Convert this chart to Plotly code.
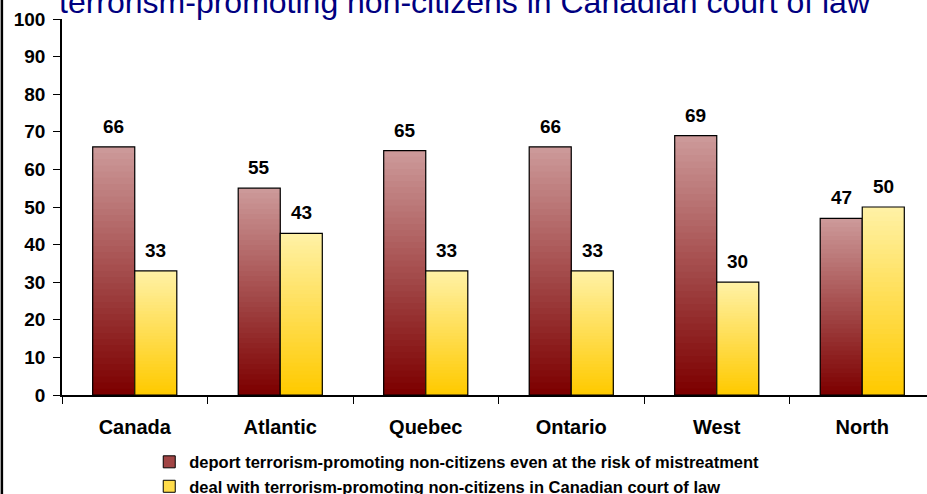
import plotly.graph_objects as go

# data
regions = ["Canada", "Atlantic", "Quebec", "Ontario", "West", "North"]
deport = [66, 55, 65, 66, 69, 47]
court = [33, 43, 33, 33, 30, 50]

deport_name = "deport terrorism-promoting non-citizens even at the risk of mistreatment"
court_name = "deal with terrorism-promoting non-citizens in Canadian court of law"
title_text = "terrorism-promoting non-citizens in Canadian court of law"

# gradient ends (top colour, bottom colour)
_MAROON = ((204, 153, 153), (125, 0, 0))
_YELLOW = ((255, 241, 164), (255, 202, 0))

_FONT = "Liberation Sans, Arial, sans-serif"
_N_STEPS = 40
_BAR_W = 0.289


def _mix(c0, c1, t):
    r, g, b = (round(a + (b_ - a) * t) for a, b_ in zip(c0, c1))
    return f"rgb({r},{g},{b})"


def gradient_bars(fig, values, colors, offset, name):
    """Fake a vertical gradient by overlaying progressively shorter bars."""
    top, bottom = colors
    for i in range(_N_STEPS):
        frac = (_N_STEPS - i) / _N_STEPS
        fig.add_trace(
            go.Bar(
                x=regions,
                y=[v * frac for v in values],
                width=_BAR_W,
                offset=offset,
                marker=dict(color=_mix(top, bottom, i / (_N_STEPS - 1)), line_width=0),
                showlegend=False,
                hoverinfo="skip",
            )
        )
    # outline on top
    fig.add_trace(
        go.Bar(
            x=regions,
            y=values,
            width=_BAR_W,
            offset=offset,
            marker=dict(color="rgba(0,0,0,0)", line=dict(color="black", width=1.2)),
            showlegend=False,
            name=name,
        )
    )
    # legend entry only
    fig.add_trace(
        go.Bar(
            x=[regions[0]],
            y=[None],
            name=name,
            marker=dict(color=_mix(top, bottom, 0.55), line=dict(color="black", width=1)),
        )
    )
    for r, v in zip(regions, values):
        fig.add_annotation(
            x=r,
            y=v,
            text=f"<b>{v}</b>",
            showarrow=False,
            xshift=(offset + _BAR_W / 2) * 145.5,
            yshift=8,
            yanchor="bottom",
            font=dict(family=_FONT, size=19, color="black"),
        )


fig = go.Figure()
gradient_bars(fig, deport, _MAROON, -_BAR_W, deport_name)
gradient_bars(fig, court, _YELLOW, 0, court_name)

fig.add_annotation(
    text=title_text,
    xref="paper",
    yref="paper",
    x=-0.006,
    y=1.045,
    xanchor="left",
    yanchor="middle",
    showarrow=False,
    font=dict(family=_FONT, size=32, color="#000080"),
)

# frame line at the very left edge of the slide
fig.add_shape(
    type="line",
    xref="paper",
    yref="paper",
    x0=-0.0695,
    x1=-0.0695,
    y0=-0.4,
    y1=1.2,
    line=dict(color="black", width=2.5),
)

fig.update_layout(
    barmode="overlay",
    width=927,
    height=494,
    margin=dict(l=62, r=0, t=19, b=99, autoexpand=False),
    plot_bgcolor="white",
    paper_bgcolor="white",
    font=dict(family=_FONT, color="black"),
    legend=dict(
        xref="container",
        yref="container",
        x=0.161,
        y=0.1,
        xanchor="left",
        yanchor="top",
        traceorder="normal",
        font=dict(family=_FONT, size=16.5, color="black", weight="bold"),
        itemwidth=30,
        tracegroupgap=0,
    ),
    xaxis=dict(
        range=[-0.5, 5.445],
        automargin=False,
        showline=True,
        linecolor="black",
        linewidth=1.5,
        ticks="outside",
        tickson="boundaries",
        ticklen=7,
        tickcolor="black",
        tickfont=dict(family=_FONT, size=20, color="black", weight="bold"),
        ticklabelstandoff=13,
        showgrid=False,
    ),
    yaxis=dict(
        range=[0, 100],
        dtick=10,
        automargin=False,
        showline=True,
        linecolor="black",
        linewidth=1.5,
        ticks="outside",
        ticklen=7,
        tickcolor="black",
        tickfont=dict(family=_FONT, size=19, color="black", weight="bold"),
        ticklabelstandoff=4,
        showgrid=False,
        zeroline=False,
    ),
)

# drop the browser's default body margin so the figure sits at the window corner
fig.write_html(
    "out.html",
    config={"displayModeBar": False},
    post_script="document.body.style.margin='0';document.body.style.overflow='hidden';",
)
